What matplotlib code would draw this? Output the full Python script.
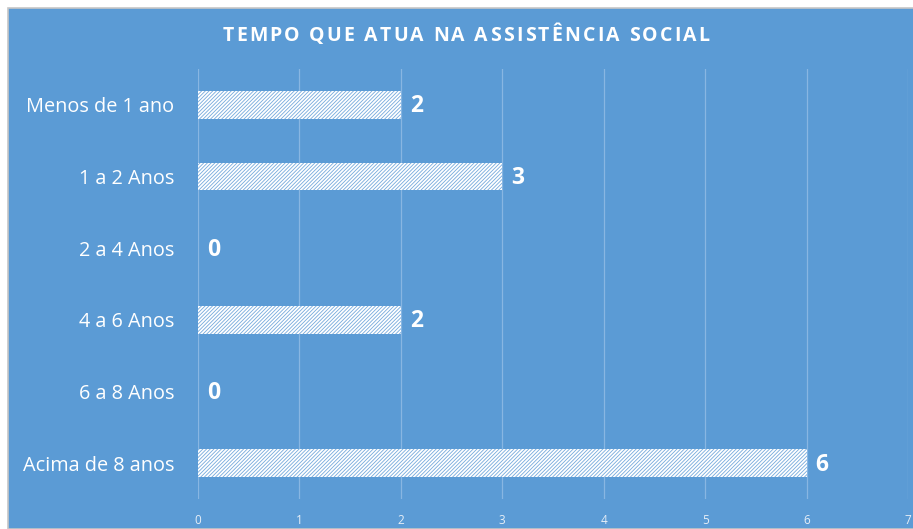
import matplotlib
matplotlib.use("Agg")
import matplotlib.pyplot as plt
from matplotlib.patches import Rectangle

BLUE = "#5b9bd5"
WHITE = "#ffffff"
GRID = "#88b6e2"
HATCH = "#74a9dc"

categories = ["Menos de 1 ano", "1 a 2 Anos", "2 a 4 Anos",
              "4 a 6 Anos", "6 a 8 Anos", "Acima de 8 anos"]
values = [2, 3, 0, 2, 0, 6]
xticks = [0, 1, 2, 3, 4, 5, 6, 7]
TITLE = "TEMPO QUE ATUA NA ASSISTÊNCIA SOCIAL"

plt.rcParams["font.family"] = ["Open Sans", "DejaVu Sans"]
plt.rcParams["hatch.linewidth"] = 0.6
plt.rcParams["hatch.color"] = HATCH

W, H = 913, 529
fig = plt.figure(figsize=(W / 100, H / 100), dpi=100, facecolor="white")

# blue chart area with thin grey frame on top/left
fig.patches.append(Rectangle((8 / W, 0), 1, 1 - 8 / H, transform=fig.transFigure,
                             facecolor=BLUE, edgecolor="#c6c6c6", linewidth=1.2,
                             zorder=-10))

ax = fig.add_axes([198 / W, 1 - 499 / H, 710 / W, 430 / H])
ax.set_facecolor("none")

y = list(range(len(categories)))
ax.barh(y, values, height=0.39, color=WHITE, edgecolor=HATCH,
        hatch="/////////", linewidth=0, zorder=3)

ax.set_xlim(0, 7)
ax.set_ylim(len(categories) - 0.5, -0.5)
ax.set_xticks(xticks)
ax.set_xticklabels([str(t) for t in xticks], fontsize=8.5, color="#e6eef7")
ax.set_yticks(y)
ax.set_yticklabels(categories, fontsize=14.3, color=WHITE)
ax.tick_params(axis="x", length=0, pad=11)
ax.tick_params(axis="y", length=0, pad=17)
ax.grid(axis="x", color=GRID, linewidth=0.9, zorder=1)
ax.set_axisbelow(True)
for s in ax.spines.values():
    s.set_visible(False)

for yi, v in zip(y, values):
    ax.annotate(str(v), (v, yi), xytext=(6.5, -1), textcoords="offset points",
                ha="left", va="center", fontsize=16.5, fontweight="bold",
                color=WHITE, zorder=4)

# title with letter spacing, drawn char by char
renderer = fig.canvas.get_renderer()
track = 2.2  # px between letters
chars = []
for c in TITLE:
    t = fig.text(0, 1 - 36 / H, c, ha="left", va="center", fontsize=14,
                 fontweight="bold", color=WHITE)
    chars.append((t, t.get_window_extent(renderer).width))
total = sum(w for _, w in chars) + track * (len(chars) - 1)
x = 466 - total / 2
for t, w in chars:
    t.set_x(x / W)
    x += w + track

fig.savefig("out.png", dpi=100, facecolor="white")
